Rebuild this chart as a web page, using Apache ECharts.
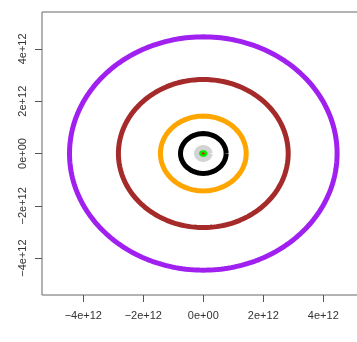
<!DOCTYPE html>
<html>
<head>
<meta charset="utf-8">
<script src="https://cdn.jsdelivr.net/npm/echarts@6/dist/echarts.min.js"></script>
<style>
html,body{margin:0;padding:0;background:#fff;}
#chart{width:357px;height:342px;}
</style>
</head>
<body>
<div id="chart"></div>
<script>
// Orbit data (radius, metres), drawn inner to outer
var planets = ["Mercury", "Venus", "Earth", "Mars", "Jupiter", "Saturn", "Uranus", "Neptune"];
var orbitRadius = [5.79e10, 1.082e11, 1.496e11, 2.279e11, 7.6e11, 1.43e12, 2.83e12, 4.46e12];
var orbitColor = ["#ff0000", "#00ee00", "#00ff00", "#d3d3d3", "#000000", "#ffa500", "#a52a2a", "#a020f0"];
var orbitWidth = [3, 3, 5, 5, 5, 5, 5, 5];
var tickValues = [-4e12, -2e12, 0, 2e12, 4e12];
var tickLabels = ["\u22124e+12", "\u22122e+12", "0e+00", "2e+12", "4e+12"];

function ring(r) {
  var pts = [];
  var n = 240;
  for (var i = 0; i <= n; i++) {
    var t = 2 * Math.PI * i / n;
    pts.push([r * Math.cos(t), r * Math.sin(t)]);
  }
  return pts;
}

function fmt(v) {
  var i = tickValues.indexOf(v);
  return i >= 0 ? tickLabels[i] : '';
}

// draw order (later on top): Earth, Mercury, Venus, Mars, Jupiter, ...
var order = [2, 0, 1, 3, 4, 5, 6, 7];
var series = order.map(function (i, k) {
  return {
    name: planets[i],
    type: 'line',
    data: ring(orbitRadius[i]),
    showSymbol: false,
    smooth: false,
    clip: true,
    silent: true,
    animation: false,
    lineStyle: { color: orbitColor[i], width: orbitWidth[i] },
    z: 2 + k
  };
});

var axisCommon = {
  type: 'value',
  axisLine: { show: false, onZero: false },
  splitLine: { show: false },
  axisTick: { show: true, length: 7, inside: false, customValues: tickValues, lineStyle: { color: '#555', width: 1 } },
  axisLabel: {
    customValues: tickValues,
    formatter: fmt,
    color: '#333',
    fontSize: 11,
    fontFamily: 'Liberation Sans, Arial, sans-serif'
  }
};

var chart = echarts.init(document.getElementById('chart'), null, { renderer: 'canvas' });
chart.setOption({
  animation: false,
  backgroundColor: '#ffffff',
  grid: {
    left: 42, top: 12, right: -8, bottom: 47,
    containLabel: false,
    outerBoundsMode: 'none',
    show: true, borderColor: '#666', borderWidth: 1, backgroundColor: 'transparent'
  },
  xAxis: Object.assign({}, axisCommon, {
    position: 'bottom',
    min: -5.377e12, max: 5.39e12,
    axisLabel: Object.assign({}, axisCommon.axisLabel, { margin: 15 })
  }),
  yAxis: Object.assign({}, axisCommon, {
    position: 'left',
    min: -5.41e12, max: 5.41e12,
    axisLabel: Object.assign({}, axisCommon.axisLabel, { margin: 14, rotate: 90 })
  }),
  series: series
});
</script>
</body>
</html>
